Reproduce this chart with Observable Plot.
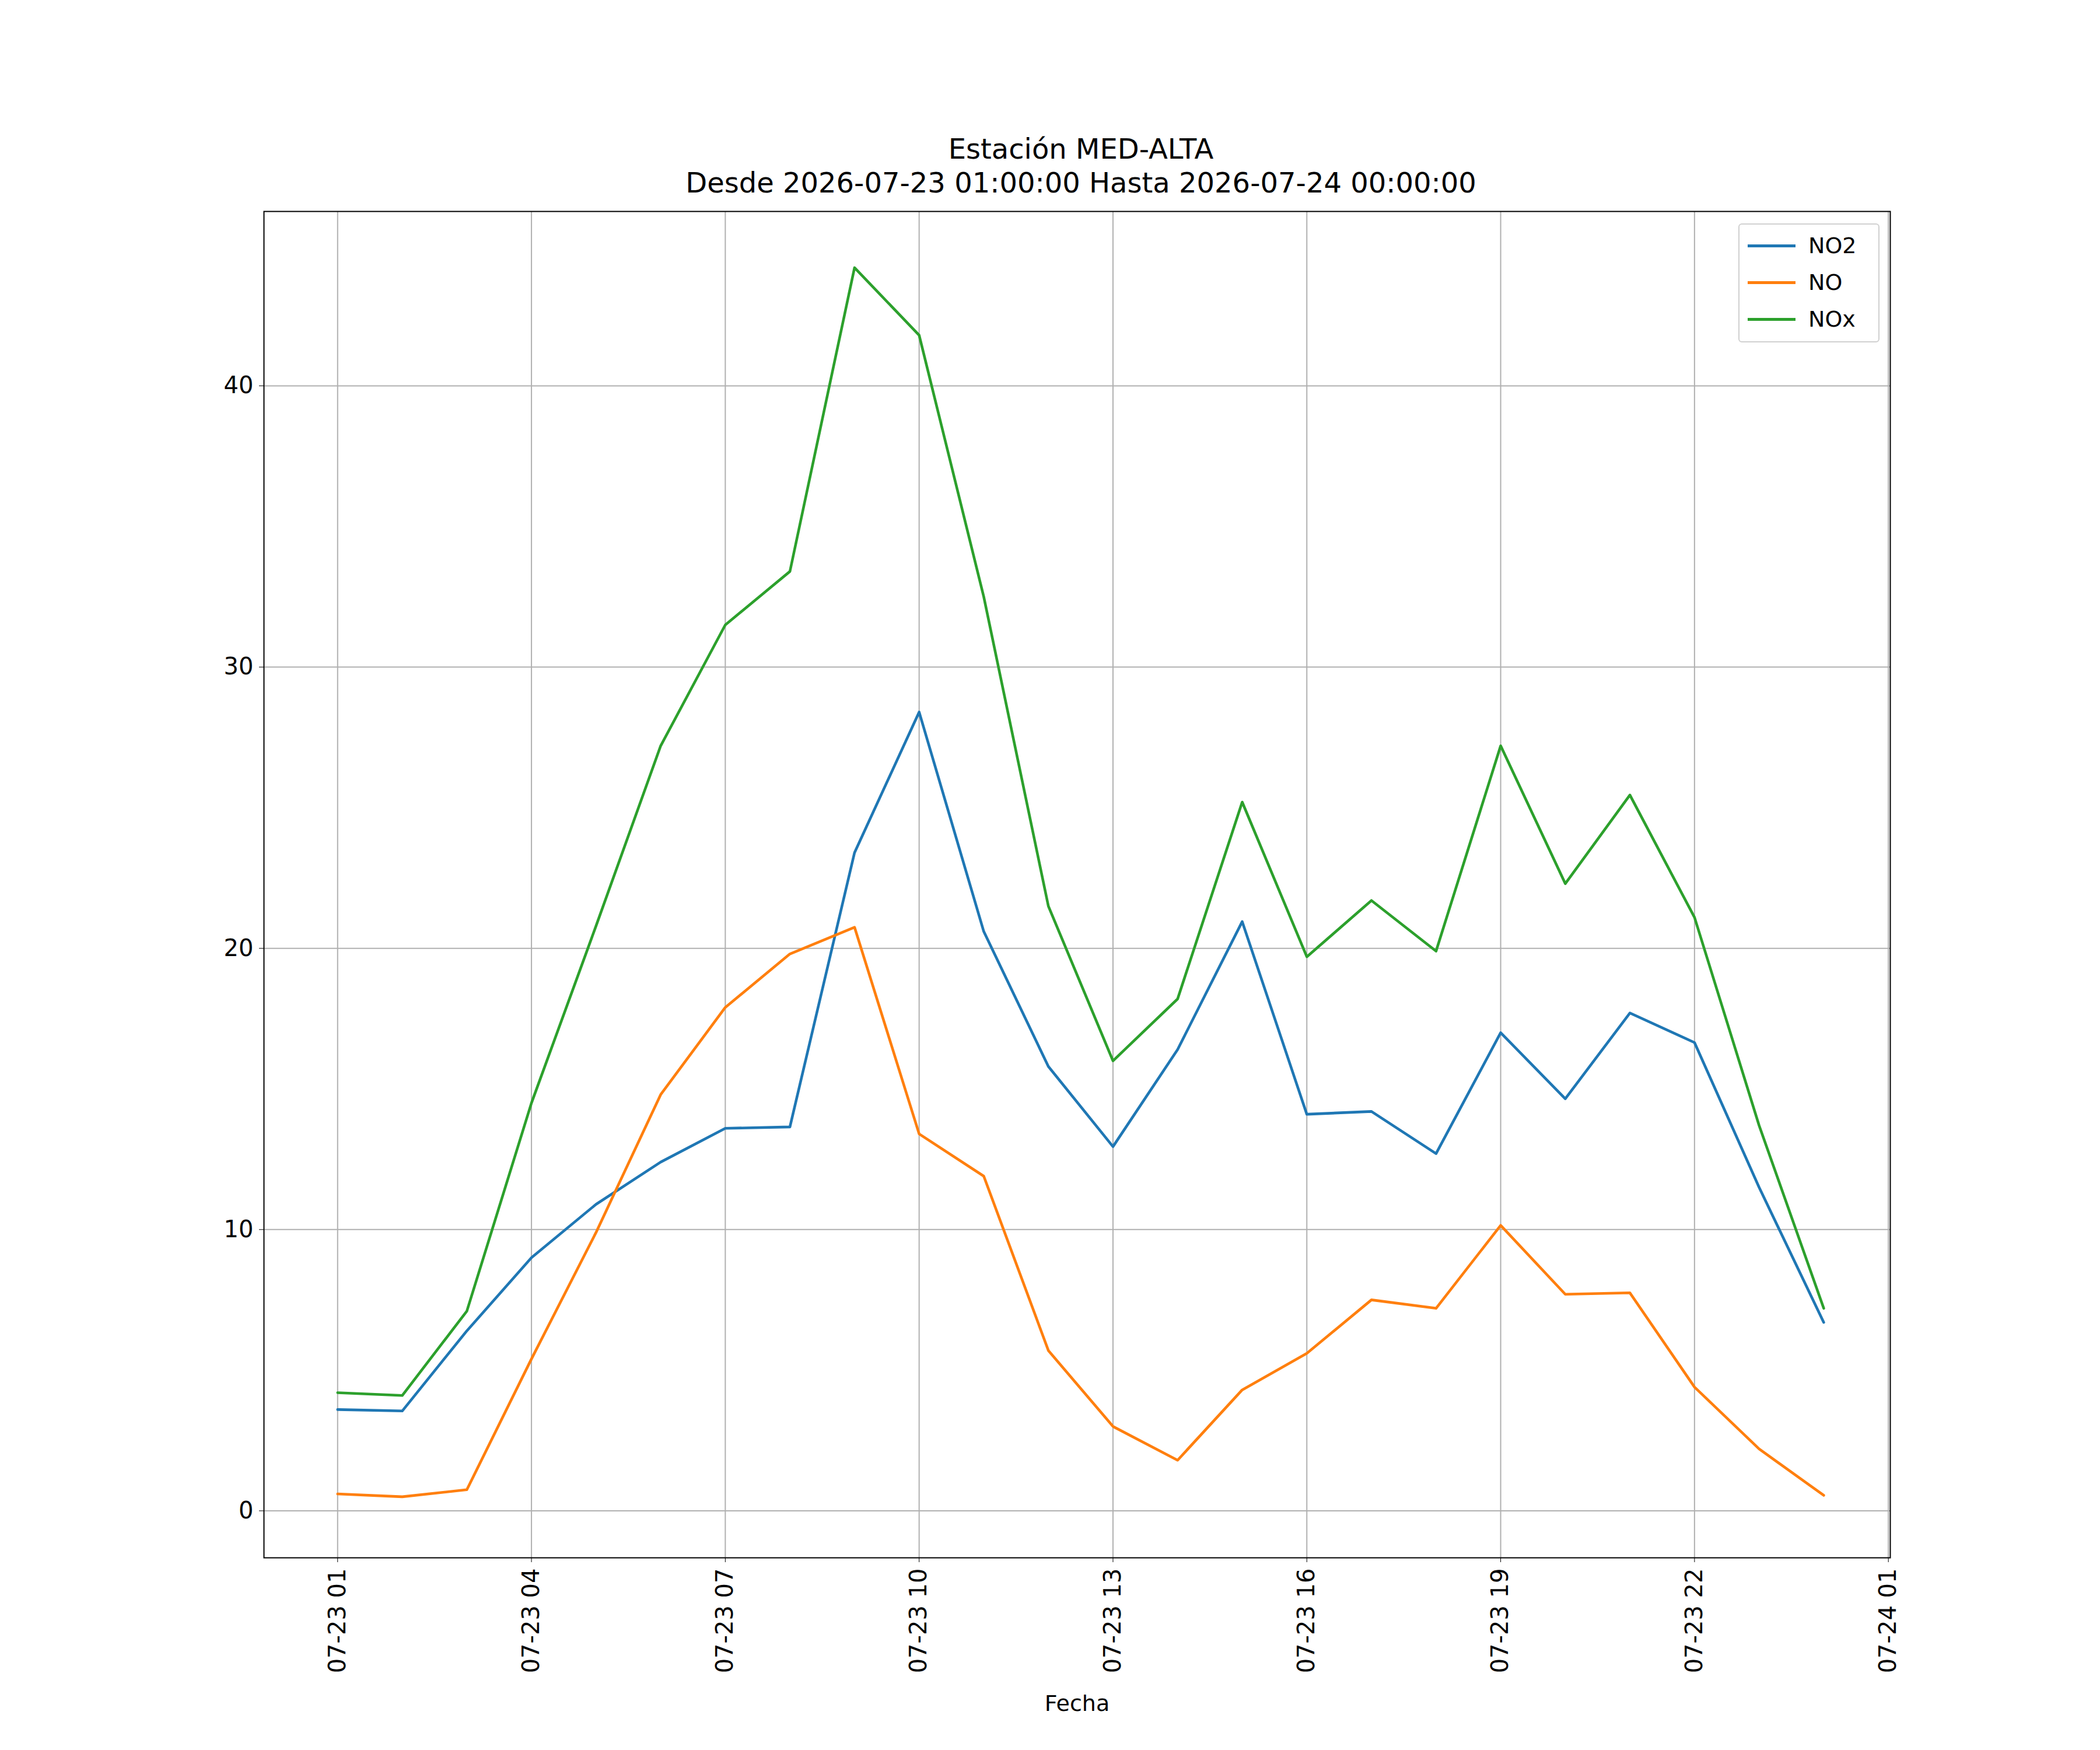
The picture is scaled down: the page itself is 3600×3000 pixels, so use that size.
<!DOCTYPE html>
<html><head><meta charset="utf-8">
<script src="https://cdn.jsdelivr.net/npm/d3@7"></script>
<script src="https://cdn.jsdelivr.net/npm/@observablehq/plot@0.6"></script>
<style>
body{margin:0;background:#fff;font-family:"DejaVu Sans",sans-serif;}
#wrap{position:relative;width:3600px;height:3000px;}
#title{position:absolute;left:452px;width:2802px;top:226px;text-align:center;font-size:48px;line-height:58px;color:#000;}
#legend{position:absolute;left:2980px;top:383px;width:238px;height:200px;border:2px solid #d0d0d0;border-radius:6px;background:rgba(255,255,255,0.8);font-size:38px;}
.item{position:absolute;left:14px;height:44px;display:flex;align-items:center;}
.sw{width:82px;height:5px;margin-right:22px;}
</style></head><body>
<div id="wrap"><div id="title">Estación MED-ALTA<br>Desde 2026-07-23 01:00:00 Hasta 2026-07-24 00:00:00</div><div id="legend"></div></div>
<script>
const hours = d3.range(1,25);
const NO2 = [3.6,3.55,6.4,9.0,10.9,12.4,13.6,13.65,23.4,28.4,20.6,15.8,12.95,16.4,20.95,14.1,14.2,12.7,17.0,14.65,17.7,16.65,11.5,6.7];
const NO  = [0.6,0.5,0.75,5.4,9.9,14.8,17.9,19.8,20.75,13.4,11.9,5.7,3.0,1.8,4.3,5.6,7.5,7.2,10.15,7.7,7.75,4.4,2.2,0.55];
const NOx = [4.2,4.1,7.1,14.5,20.8,27.2,31.5,33.4,44.2,41.8,32.5,21.5,16.0,18.2,25.2,19.7,21.7,19.9,27.2,22.3,25.45,21.1,13.7,7.2];
const seriesNames = ["NO2","NO","NOx"];
const colors = ["#1f77b4","#ff7f0e","#2ca02c"];
const yTicks = [0,10,20,30,40];
const t = h => new Date(Date.UTC(2026,6,23,0)+h*3600e3);
const xTicks = d3.range(1,26,3).map(t);
const data = [];
[NO2,NO,NOx].forEach((arr,i)=>arr.forEach((v,j)=>data.push({s:seriesNames[i],date:t(hours[j]),v})));
const fmt = d3.utcFormat("%m-%d %H");
const plot = Plot.plot({
  width:3600,height:3000,marginLeft:452,marginRight:360,marginTop:362,marginBottom:330,
  style:{fontFamily:"DejaVu Sans",fontSize:"38px",background:"white",color:"#000"},
  x:{type:"utc",domain:[t(-0.14),t(25.03)],ticks:xTicks,tickFormat:fmt,tickRotate:-90,tickSize:8,tickPadding:8,label:null},
  y:{domain:[-1.67,46.2],ticks:yTicks,tickSize:8,tickPadding:8,label:null},
  color:{domain:seriesNames,range:colors},
  marks:[
    Plot.gridX(xTicks,{stroke:"#b0b0b0",strokeOpacity:1,strokeWidth:2}),
    Plot.gridY(yTicks,{stroke:"#b0b0b0",strokeOpacity:1,strokeWidth:2}),
    Plot.line(data,{x:"date",y:"v",z:"s",stroke:"s",strokeWidth:4.6}),
    Plot.frame({stroke:"#000",strokeWidth:2}),
    Plot.axisX({ticks:xTicks,tickFormat:fmt,tickRotate:-90,tickSize:8,tickPadding:10,fontSize:40,label:null}),
    Plot.axisY({ticks:yTicks,tickSize:8,tickPadding:10,fontSize:40,label:null}),
    Plot.text(["Fecha"],{frameAnchor:"bottom",dy:262,fontSize:38})
  ]
});
document.getElementById("wrap").prepend(plot);
const lg=document.getElementById("legend");
seriesNames.forEach((n,i)=>{const d=document.createElement("div");d.className="item";d.style.top=(14+i*63)+"px";d.innerHTML=`<div class="sw" style="background:${colors[i]}"></div><span>${n}</span>`;lg.appendChild(d);});
</script></body></html>
